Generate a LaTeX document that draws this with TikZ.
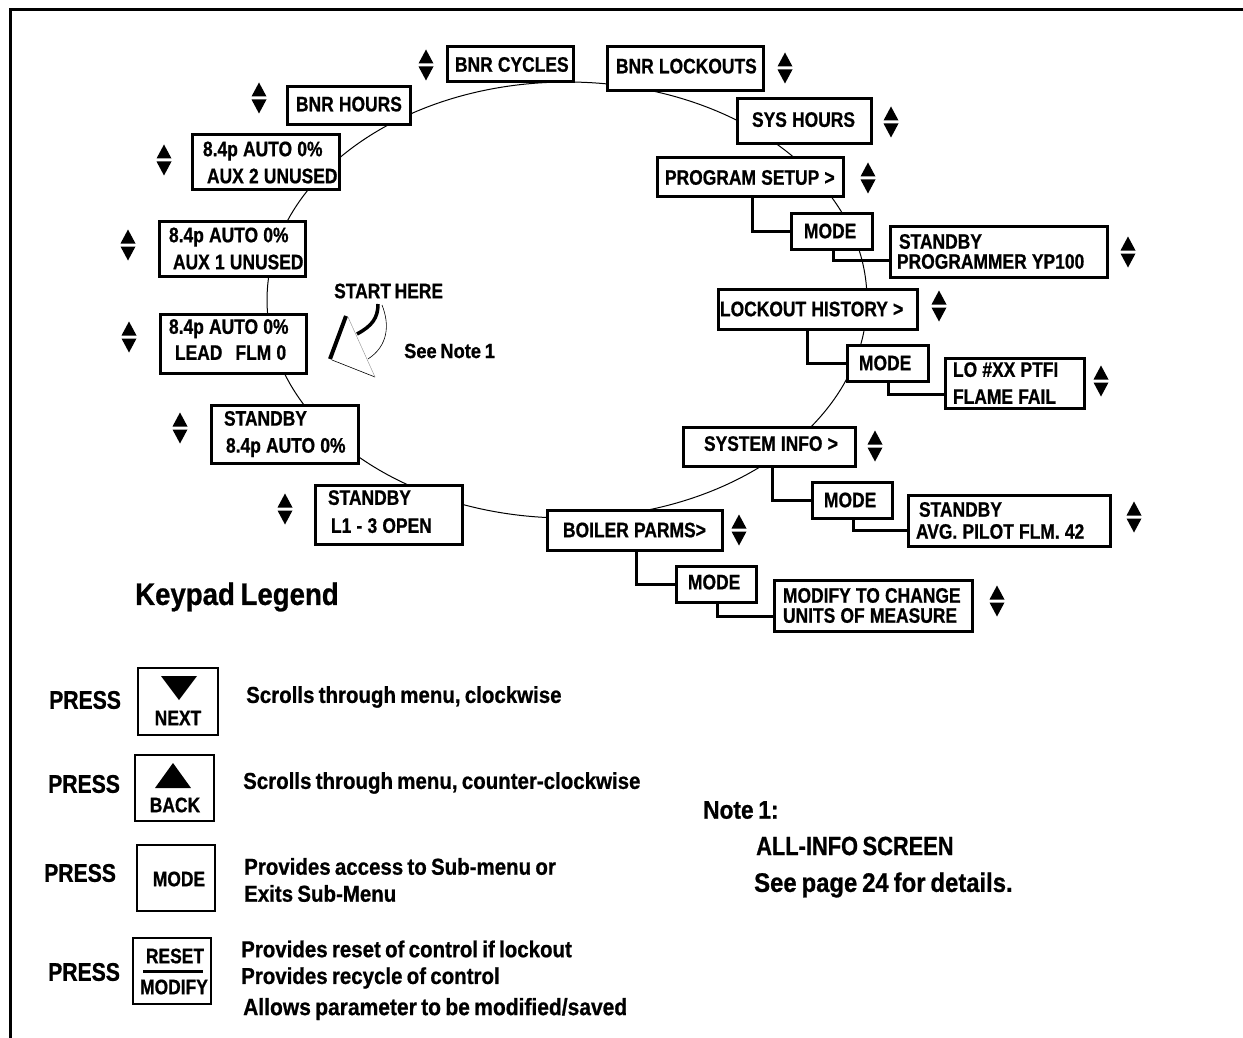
\documentclass[tikz,border=0pt]{standalone}
\usepackage{fontspec}
\setmainfont{Liberation Sans}[FakeStretch=0.83,WordSpace=0.75,BoldFeatures={FakeBold=0.8}]
\newfontfamily\descfam{Liberation Sans}[FakeStretch=0.89,WordSpace=0.75,BoldFeatures={FakeBold=0.8}]
\tikzset{
  x=1pt,y=-1pt,
  scr/.style={draw,line width=3pt,fill=white,inner sep=0pt,align=left,font=\fontsize{21}{21}\selectfont\bfseries,anchor=center},
  key/.style={draw,line width=2pt,fill=white,inner sep=0pt,anchor=center},
  keytxt/.style={inner sep=0pt,font=\fontsize{21}{21}\selectfont\bfseries},
  lbl/.style={inner sep=0pt,anchor=west,font=\fontsize{21}{21}\selectfont\bfseries,align=left},
  press/.style={inner sep=0pt,anchor=west,font=\fontsize{25.5}{26}\selectfont\bfseries},
  desc/.style={inner sep=0pt,anchor=west,font=\descfam\fontsize{23}{27}\selectfont\bfseries,align=left},
  conn/.style={line width=3pt},
  ring/.style={line width=1pt},
  pics/updown/.style={code={
    \fill (0,-15.5) -- (7.5,-1.5) -- (-7.5,-1.5) -- cycle;
    \fill (-7.5,1.5) -- (7.5,1.5) -- (0,15.5) -- cycle;
  }}
}
\newcommand{\Ln}[2]{\hspace*{#1pt}\mbox{\spaceskip=5.2pt\relax #2}}
\newcommand{\Up}[1]{\rule[-#1pt]{0pt}{#1pt}}
\newcommand{\scrl}[6]{% name, x1,y1,x2,y2, text
  \pgfmathsetmacro{\scrw}{#4-#2}
  \node[scr,text width=\scrw pt,minimum height=#5pt-#3pt] (#1) at ({(#2+#4)/2},{(#3+#5)/2}) {#6};}
\begin{document}
\begin{tikzpicture}
\useasboundingbox (0,0) rectangle (1243,1038);
\draw[line width=3pt] (1243,9.7) -- (10.5,9.7) -- (10.5,1038);
\draw[ring] (567,300) ellipse [x radius=300,y radius=218];
\scrl{cycles}{447}{47}{573}{82}{\Ln{8}{BNR CYCLES}}
\scrl{lockouts}{607}{47}{763}{91}{\Ln{9}{\Up{6}BNR LOCKOUTS}}
\scrl{syshours}{737}{99}{871}{144}{\Ln{15}{\Up{4}SYS HOURS}}
\scrl{progsetup}{657}{158}{843}{197}{\Ln{8}{PROGRAM SETUP >}}
\scrl{modea}{791}{213}{872}{249}{\Ln{13}{MODE}}
\scrl{stanprog}{890}{226}{1107}{277}{\Ln{9}{STANDBY}\\[-1pt]\Ln{7}{PROGRAMMER YP100}}
\scrl{lockhist}{718}{289}{917}{329}{\Ln{2}{LOCKOUT HISTORY >}}
\scrl{modeb}{847}{345}{928}{381}{\Ln{12}{MODE}}
\scrl{lofail}{945}{358}{1084}{408}{\Ln{8}{LO \#XX PTFI}\\[6pt]\Ln{8}{FLAME FAIL}}
\scrl{sysinfo}{683}{427}{855}{466}{\Ln{21}{\Up{6}SYSTEM INFO >}}
\scrl{modec}{812}{482}{892}{518}{\Ln{12}{MODE}}
\scrl{stanavg}{908}{495}{1110}{546}{\Ln{11}{STANDBY}\\[1pt]\Ln{8}{AVG. PILOT FLM. 42}}
\scrl{boiler}{547}{510}{722}{550}{\Ln{16}{BOILER PARMS>}}
\scrl{moded}{676}{566}{756}{602}{\Ln{12}{\Up{4}MODE}}
\scrl{modify}{774}{580}{972}{631}{\Ln{9}{MODIFY TO CHANGE}\\[-1pt]\Ln{9}{UNITS OF MEASURE}}
\scrl{bnrhours}{287}{87}{410}{125}{\Ln{9}{\Up{4}BNR HOURS}}
\scrl{auxb}{192}{135}{339}{190}{\Ln{11}{8.4p AUTO 0\%}\\[6pt]\Ln{15}{AUX 2 UNUSED}}
\scrl{auxa}{159}{221}{305}{276}{\Ln{10}{8.4p AUTO 0\%}\\[6pt]\Ln{14}{AUX 1 UNUSED}}
\scrl{lead}{160}{314}{306}{373}{\Ln{9}{8.4p AUTO 0\%}\\[5pt]\Ln{15}{\Up{8}LEAD\hspace{13pt}FLM 0}}
\scrl{stanauto}{211}{405}{358}{463}{\Ln{13}{STANDBY}\\[6pt]\Ln{15}{8.4p AUTO 0\%}}
\scrl{stanlone}{315}{485}{462}{544}{\Ln{13}{STANDBY}\\[7pt]\Ln{16}{\Up{6}L1 - 3 OPEN}}
% elbows
\draw[conn] (progsetup.south -| 752,0) |- (modea.west);
\draw[conn] (modea.south -| 833,0) |- (stanprog.west |- 0,260);
\draw[conn] (lockhist.south -| 807,0) |- (modeb.west);
\draw[conn] (modeb.south -| 888,0) |- (lofail.west |- 0,394);
\draw[conn] (sysinfo.south -| 772,0) |- (modec.west);
\draw[conn] (modec.south -| 853,0) |- (stanavg.west |- 0,530);
\draw[conn] (boiler.south -| 636,0) |- (moded.west);
\draw[conn] (moded.south -| 717,0) |- (modify.west |- 0,616);
% up-down markers
\foreach \ux/\uy in {426/65,785/68,891/122,868/178,1128/252,939/306,1101/381,875/446,1134/517,739/530,997/601,259/98,164/160,128/245,129/337,180/428,285/509}
  \pic at (\ux,\uy) {updown};
% start here
\node[lbl] (start) at (334,291) {START HERE};
\node[desc,font=\descfam\fontsize{20.5}{21}\selectfont\bfseries] (note1) at (404,351) {See Note 1};
\coordinate (ta) at (346,316);
\coordinate (tb) at (330,359);
\coordinate (tc) at (375,377);
\coordinate (td) at (348,317);
\draw[line width=0.6pt] (332,360) -- (tc);
\draw[line width=0.4pt,black!45] (td) -- (tc);
\draw[line width=4pt] (ta) -- (tb);
\draw[line width=3.5pt] (378,304) .. controls (378,318) and (372,326) .. (357,334);
\draw[line width=0.6pt] (382,305) .. controls (390,325) and (388,346) .. (368,359);
% legend
\node[desc,font=\descfam\fontsize{31}{32}\selectfont\bfseries] (legend) at (135,597) {Keypad Legend};
\node[press] (pa) at (49,700) {PRESS};
\node[press] (pb) at (48,784) {PRESS};
\node[press] (pc) at (44,873) {PRESS};
\node[press] (pd) at (48,972) {PRESS};
\node[key,minimum width=80pt,minimum height=67pt] (knext) at (178,701.5) {};
\node[keytxt] (tnext) at (178,718) {NEXT};
\fill (161,676) -- (197,676) -- (179,700) -- cycle;
\node[key,minimum width=79pt,minimum height=66pt] (kback) at (174.5,788) {};
\node[keytxt] (tback) at (175,805) {BACK};
\fill (155,788) -- (191,788) -- (173,763) -- cycle;
\node[key,minimum width=78pt,minimum height=66pt] (kmode) at (176,878) {};
\node[keytxt] (tmode) at (179,879) {MODE};
\node[key,minimum width=78pt,minimum height=66pt] (kreset) at (172,971) {};
\node[keytxt] (treset) at (175,956) {RESET};
\node[keytxt] (tmod) at (174,987) {MODIFY};
\draw[line width=3pt] (143,971) -- (203,971);
\node[desc] (da) at (246,697) {Scrolls through menu, clockwise};
\node[desc] (db) at (243,783) {Scrolls through menu, counter-clockwise};
\node[desc] (dc) at (244,880) {Provides access to Sub-menu or\\Exits Sub-Menu};
\node[desc] (dd1) at (241,949) {Provides reset of control if lockout};
\node[desc] (dd2) at (241,978) {Provides recycle of control};
\node[desc,font=\descfam\fontsize{23.6}{27}\selectfont\bfseries] (dd3) at (243,1009) {Allows parameter to be modified/saved};
\node[desc,font=\descfam\fontsize{25.5}{27}\selectfont\bfseries] (na) at (703,810) {Note 1:};
\node[press,font=\fontsize{26.3}{27}\selectfont\bfseries] (nb) at (756,846) {ALL-INFO SCREEN};
\node[desc,font=\descfam\fontsize{26.8}{28}\selectfont\bfseries] (nc) at (754,885) {See page 24 for details.};
\end{tikzpicture}
\end{document}
